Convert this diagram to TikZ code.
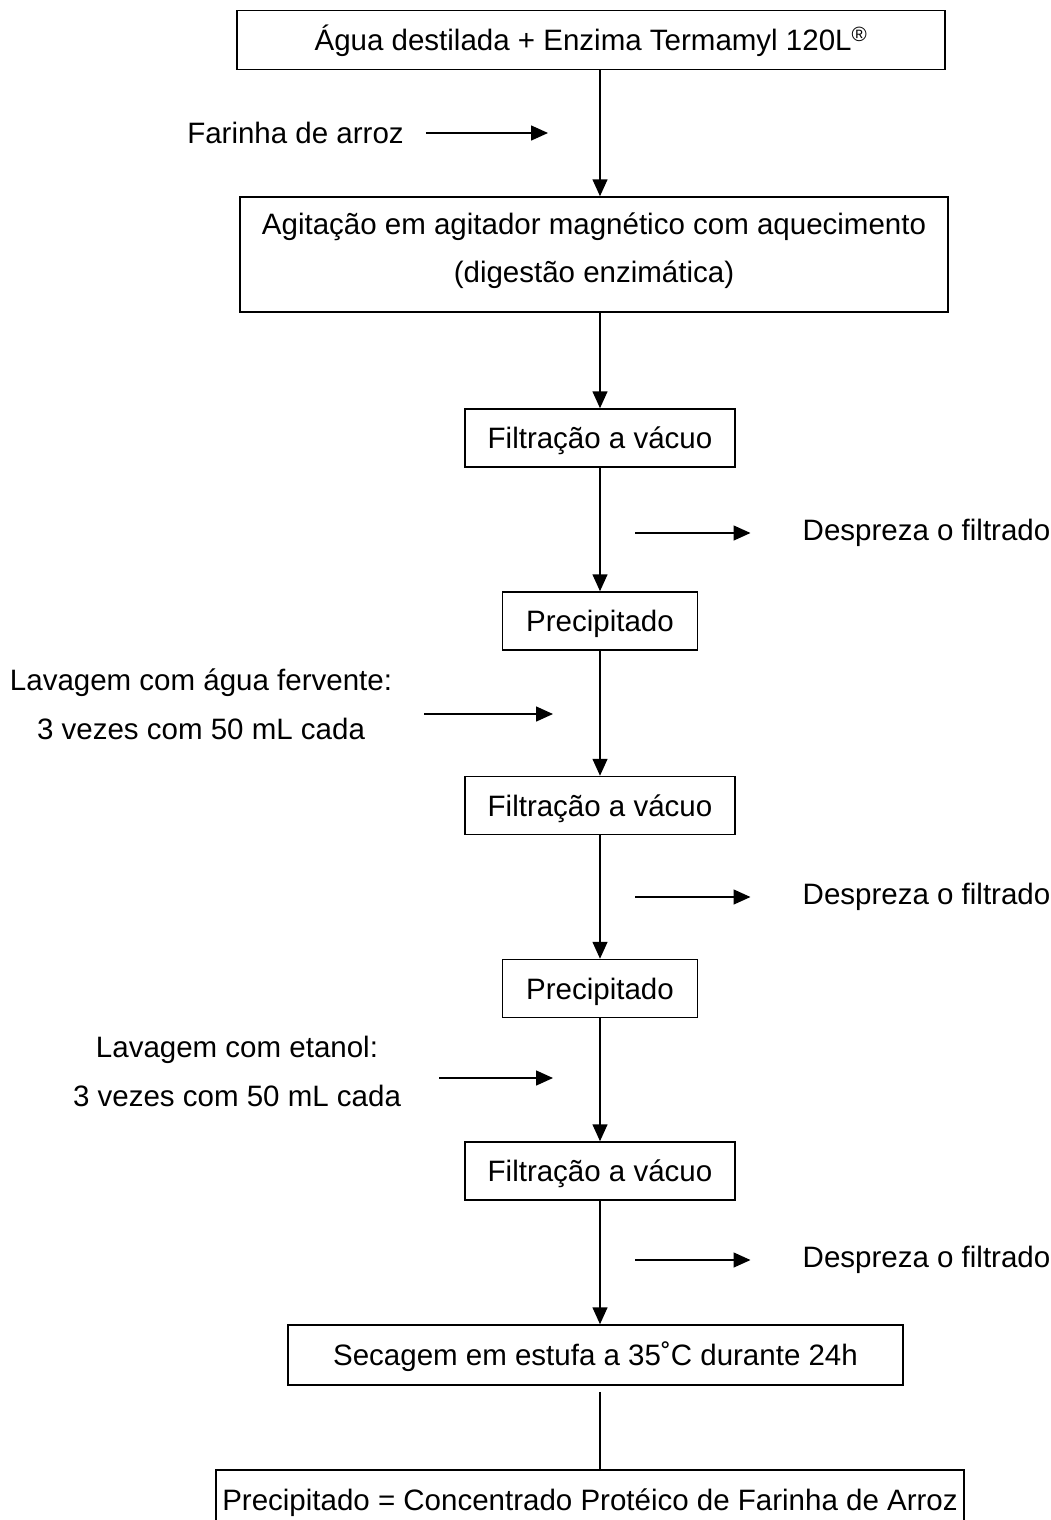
\documentclass[tikz,border=0pt]{standalone}
\usepackage{fontspec}
\setmainfont{Liberation Sans}
\usetikzlibrary{arrows.meta,positioning}

\begin{document}
\begin{tikzpicture}[x=1pt,y=-1pt,
    etapa/.style={draw, line width=1.5pt, inner sep=0pt, align=center, text height=21pt, text depth=0pt, font=\fontsize{29.5}{48}\selectfont},
    rotulo/.style={inner sep=0pt, align=center, font=\fontsize{29.5}{49}\selectfont},
    seta/.style={line width=1.5pt, -{Triangle[length=17pt,width=15pt]}},
    linha/.style={line width=1.5pt}]
        \useasboundingbox (0,0) rectangle (1051,1520);
        \clip (0,0) rectangle (1051,1520);
        % etapas
        \node[etapa, minimum width=708pt, minimum height=59pt] (agua) at (591,40) {Água destilada + Enzima Termamyl 120L\textsuperscript{®}};
        \node[etapa, minimum width=708pt, minimum height=115pt, text height=55pt] (agit) at (594,254.5) {Agitação em agitador magnético com aquecimento\\(digestão enzimática)};
        \node[etapa, minimum width=270pt, minimum height=58pt] (filtA) at (600,438) {Filtração a vácuo};
        \node[etapa, minimum width=195pt, minimum height=58pt] (precA) at (600,621) {Precipitado};
        \node[etapa, minimum width=270pt, minimum height=58pt] (filtB) at (600,805.5) {Filtração a vácuo};
        \node[etapa, minimum width=195pt, minimum height=58pt] (precB) at (600,988.5) {Precipitado};
        \node[etapa, minimum width=270pt, minimum height=58pt] (filtC) at (600,1171) {Filtração a vácuo};
        \node[etapa, minimum width=615pt, minimum height=60pt] (seca) at (595.5,1355) {Secagem em estufa a 35˚C durante 24h};
        \node[etapa, minimum width=748pt, minimum height=60pt] (final) at (590,1500) {Precipitado = Concentrado Protéico de Farinha de Arroz};
        % entradas e saidas
        \node[rotulo] (farinha) at (295.5,133) {Farinha de arroz};
        \node[rotulo] (lavA) at (201,704.5) {Lavagem com água fervente:\\3 vezes com 50 mL cada};
        \node[rotulo] (lavB) at (237,1071) {Lavagem com etanol:\\3 vezes com 50 mL cada};
        \node[rotulo] (despA) at (926.5,533) {Despreza o filtrado};
        \node[rotulo] (despB) at (926.5,897) {Despreza o filtrado};
        \node[rotulo] (despC) at (926.5,1260) {Despreza o filtrado};
        \coordinate (farinhaFim) at (548,133);
        \coordinate (lavAFim) at (553,714);
        \coordinate (lavBFim) at (553,1078);
        \coordinate (despAIni) at (635,533);
        \coordinate (despBIni) at (635,897);
        \coordinate (despCIni) at (635,1260);
        % fluxo principal
        \draw[seta] (agua.south -| filtA.center) -- (agit.north -| filtA.center);
        \draw[seta] (agit.south -| filtA.center) -- (filtA.north);
        \draw[seta] (filtA) -- (precA);
        \draw[seta] (precA) -- (filtB);
        \draw[seta] (filtB) -- (precB);
        \draw[seta] (precB) -- (filtC);
        \draw[seta] (filtC.south) -- (seca.north -| filtC.center);
        \draw[linha, shorten <=6pt] (seca.south -| filtC.center) -- (final.north -| filtC.center);
        % setas laterais
        \draw[seta] (farinhaFim -| farinha.east) ++(22,0) -- (farinhaFim);
        \draw[seta] (lavAFim -| lavA.east) ++(32,0) -- (lavAFim);
        \draw[seta] (lavBFim -| lavB.east) ++(38,0) -- (lavBFim);
        \draw[seta] (despAIni) -- ([xshift=-52pt]despA.west);
        \draw[seta] (despBIni) -- ([xshift=-52pt]despB.west);
        \draw[seta] (despCIni) -- ([xshift=-52pt]despC.west);
\end{tikzpicture}
\end{document}
